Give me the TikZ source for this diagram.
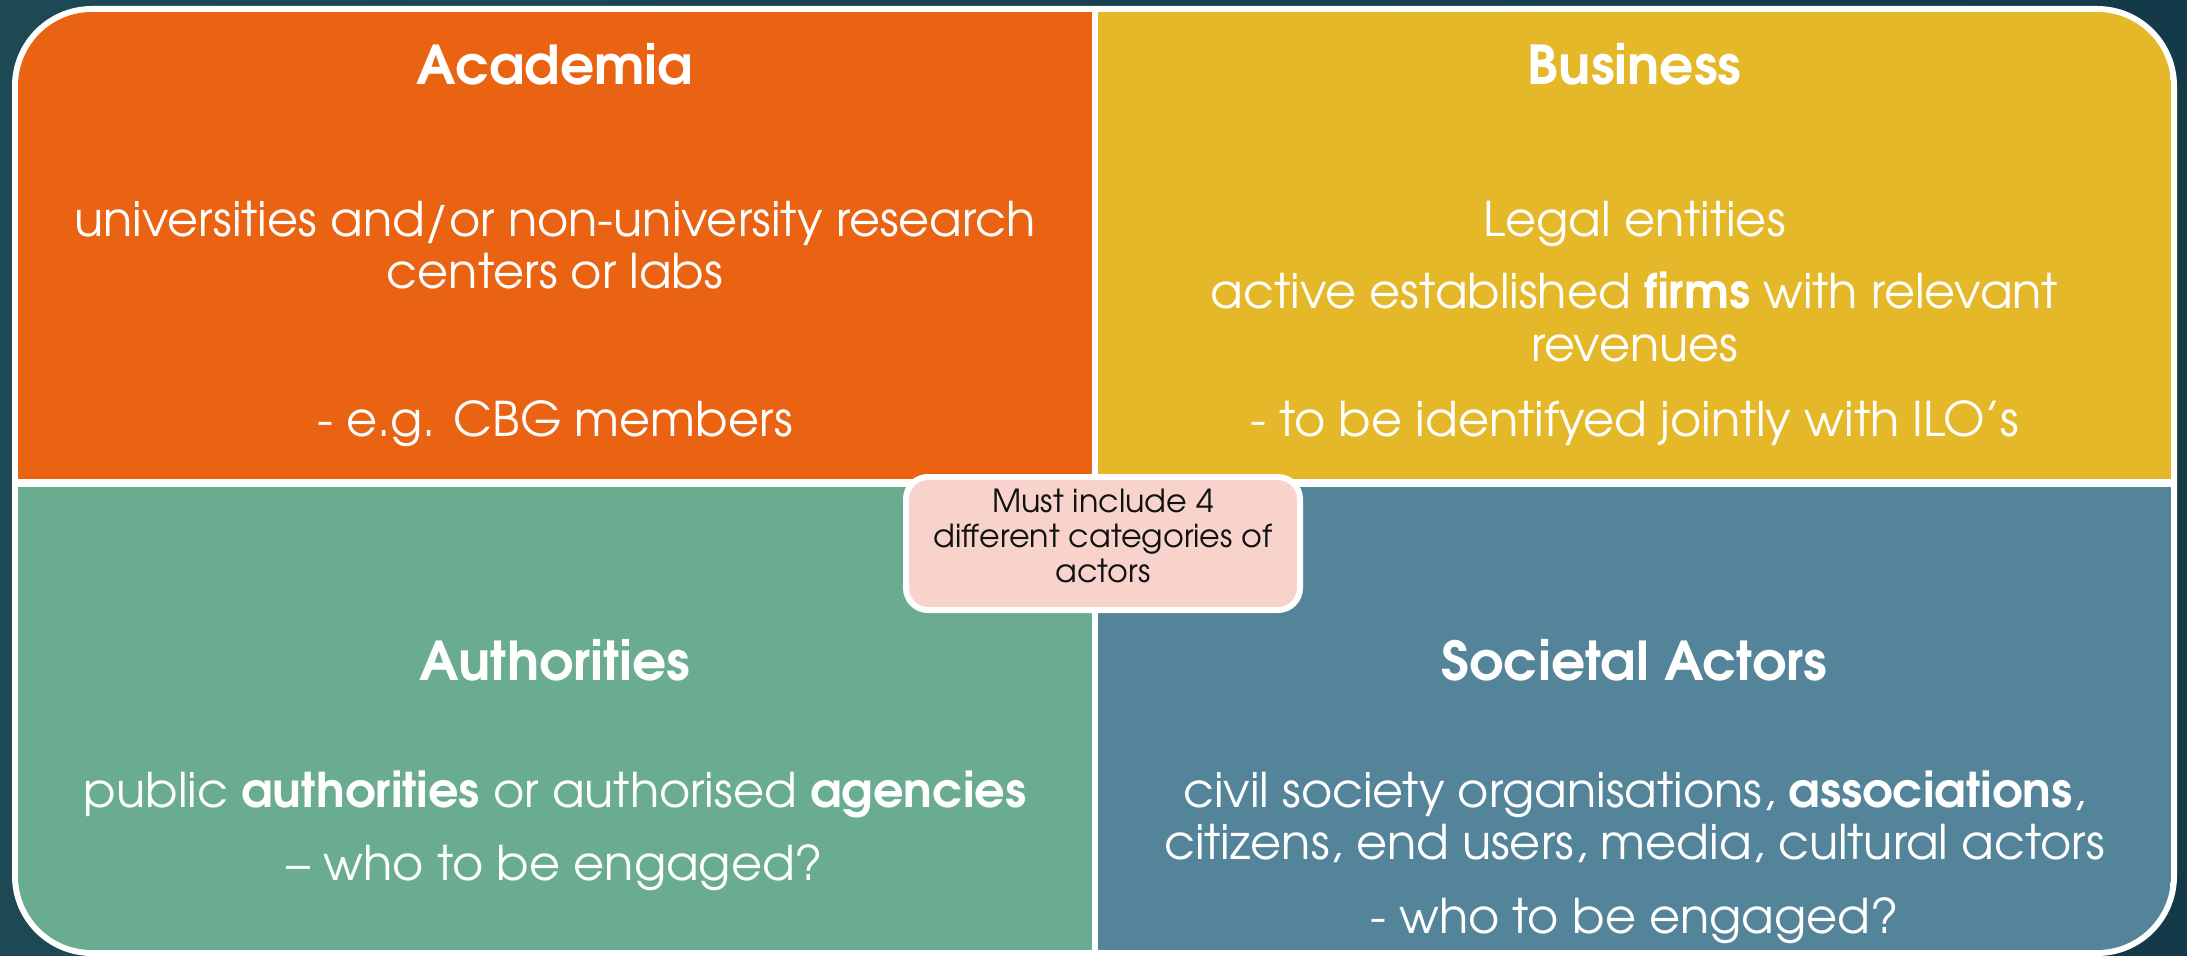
\documentclass[tikz,border=0pt]{standalone}
\usepackage{fontspec}
\setmainfont{TeX Gyre Adventor}
\definecolor{bgL}{HTML}{1C4953}
\definecolor{bgM}{HTML}{2C6865}
\definecolor{bgR}{HTML}{143A4A}
\definecolor{acaC}{HTML}{E96312}
\definecolor{busC}{HTML}{E5B829}
\definecolor{autC}{HTML}{69AC8F}
\definecolor{socC}{HTML}{548499}
\definecolor{pinkC}{HTML}{F8D3CB}
\definecolor{inkC}{HTML}{111111}
\tikzset{
  headtxt/.style={anchor=base, inner sep=0pt, text=white, font=\fontsize{26.8}{32}\selectfont\bfseries},
  bodytxt/.style={anchor=base, inner sep=0pt, text=white, font=\fontsize{23.9}{28}\selectfont},
  centerbox/.style={draw=white, line width=3pt, fill=pinkC, rounded corners=11pt,
     minimum width=197pt, minimum height=66.5pt, inner sep=0pt},
  centertxt/.style={inner sep=0pt, align=center, text=inkC, font=\fontsize{15.9}{17.5}\selectfont}
}
\begin{document}
\begin{tikzpicture}[x=0.5pt,y=-0.5pt]
\useasboundingbox (0,0) rectangle (2187,956);
\shade[left color=bgL, middle color=bgM, right color=bgR] (0,0) rectangle (2187,956);
\fill[white, rounded corners=40pt] (12,6) rectangle (2177,956);
\begin{scope}
  \clip[rounded corners=37pt] (18,12) rectangle (2171,950);
  \fill[acaC] (18,12) rectangle (1092,479);
  \fill[busC] (1098,12) rectangle (2171,479);
  \fill[autC] (18,487) rectangle (1092,950);
  \fill[socC] (1098,487) rectangle (2171,950);
\end{scope}

% Academia
\node[headtxt] (acaH) at (555,85) {Academia};
\node[bodytxt] (aca1) at (555,237) {universities and/or non-university research};
\node[bodytxt] (aca2) at (555,289) {centers or labs};
\node[bodytxt] (aca3) at (555,437) {- e.g. CBG members};

% Business
\node[headtxt] (busH) at (1634.5,85) {Business};
\node[bodytxt] (bus1) at (1634.5,237) {Legal entities};
\node[bodytxt] (bus2) at (1634.5,309) {active established \textbf{firms} with relevant};
\node[bodytxt] (bus3) at (1634.5,362) {revenues};
\node[bodytxt] (bus4) at (1634.5,437) {- to be identifyed jointly with ILO’s};

% Authorities
\node[headtxt] (autH) at (555,680) {Authorities};
\node[bodytxt] (aut1) at (555,807) {public \textbf{authorities} or authorised \textbf{agencies}};
\node[bodytxt] (aut2) at (555,880) {– who to be engaged?};

% Societal Actors
\node[headtxt] (socH) at (1634.5,680) {Societal Actors};
\node[bodytxt] (soc1) at (1634.5,807) {civil society organisations, \textbf{associations},};
\node[bodytxt] (soc2) at (1634.5,859) {citizens, end users, media, cultural actors};
\node[bodytxt] (soc3) at (1634.5,933) {- who to be engaged?};

% Centre box
\node[centerbox] (must) at (1103,543.5) {};
\node[centertxt] (mustT) at (1103,536) {Must include 4\\different categories of\\actors};
\end{tikzpicture}
\end{document}
